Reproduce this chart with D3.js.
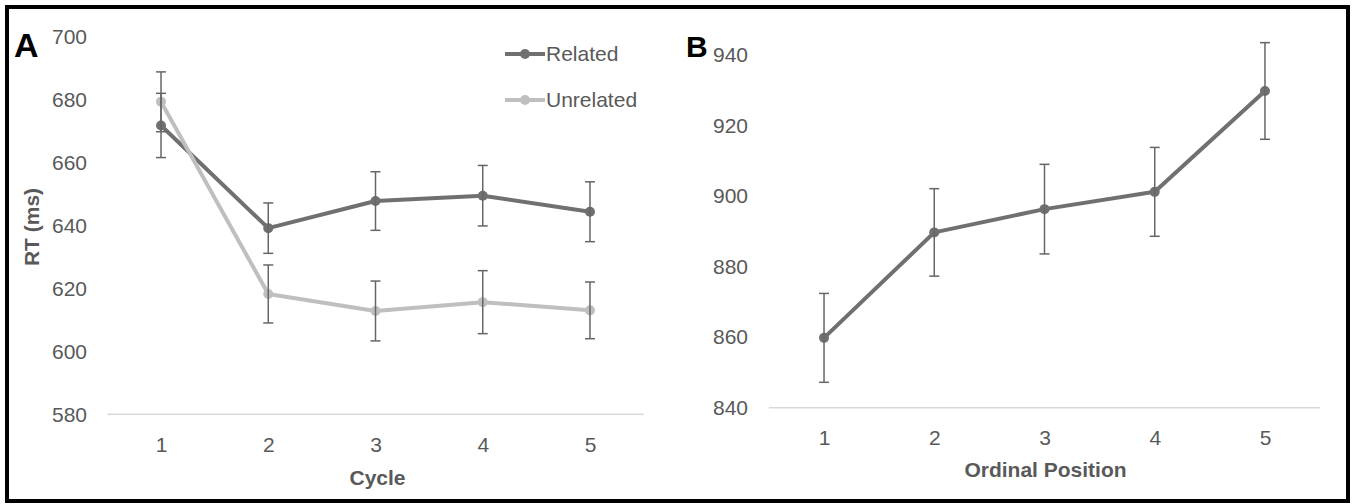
<!DOCTYPE html>
<html>
<head>
<meta charset="utf-8">
<script src="https://cdn.jsdelivr.net/npm/d3@7"></script>
<style>
  body { margin: 0; background: #fff; }
  svg { display: block; font-family: "Liberation Sans", Arial, sans-serif; }
</style>
</head>
<body>
<div id="chart"></div>
<script>
// Panel A: RT by cycle
const cycles = [1, 2, 3, 4, 5];
const relatedRT = [671.7, 639.1, 647.7, 649.4, 644.3];
const relatedErr = [10.2, 8.0, 9.3, 9.6, 9.5];
const unrelatedRT = [679.2, 618.2, 612.8, 615.6, 613.0];
const unrelatedErr = [9.5, 9.2, 9.5, 10.0, 9.0];
const ticksA = [580, 600, 620, 640, 660, 680, 700];

// Panel B: RT by ordinal position
const positions = [1, 2, 3, 4, 5];
const positionRT = [859.8, 889.7, 896.3, 901.2, 929.8];
const positionErr = [12.6, 12.4, 12.7, 12.6, 13.7];
const ticksB = [840, 860, 880, 900, 920, 940];

const W = 1353, H = 504;
const textColor = "#595959";
const errColor = "#666";

const svg = d3.select("#chart").append("svg")
    .attr("width", W)
    .attr("height", H);

// outer frame
svg.append("rect")
    .attr("x", 7).attr("y", 7)
    .attr("width", 1341).attr("height", 494)
    .attr("fill", "none")
    .attr("stroke", "#000")
    .attr("stroke-width", 4);

function drawPanel(cfg) {
    const x = d3.scalePoint()
        .domain(cfg.cats)
        .range(cfg.xRange)
        .padding(0.5);
    const y = d3.scaleLinear()
        .domain(cfg.yDomain)
        .range(cfg.yRange);

    const g = svg.append("g");

    // baseline gridline
    g.append("line")
        .attr("x1", x.range()[0]).attr("x2", x.range()[1])
        .attr("y1", y(cfg.yDomain[0])).attr("y2", y(cfg.yDomain[0]))
        .attr("stroke", "#d9d9d9")
        .attr("stroke-width", 1.5);

    // y tick labels
    const yAxis = d3.axisLeft(y).tickValues(cfg.ticks).tickSize(0).tickPadding(0);
    const ya = g.append("g")
        .attr("transform", "translate(" + cfg.yLabelX + ",0)")
        .call(yAxis);
    ya.select(".domain").remove();
    ya.selectAll("text")
        .attr("fill", textColor)
        .style("font-size", "21px")
        .style("font-family", '"Liberation Sans", Arial, sans-serif');

    // x tick labels
    const xAxis = d3.axisBottom(x).tickSize(0).tickPadding(0);
    const xa = g.append("g")
        .attr("transform", "translate(0," + cfg.xLabelY + ")")
        .call(xAxis);
    xa.select(".domain").remove();
    xa.selectAll("text")
        .attr("fill", textColor)
        .attr("dy", "0.35em")
        .attr("y", 0)
        .style("font-size", "21px")
        .style("font-family", '"Liberation Sans", Arial, sans-serif');

    // axis title
    g.append("text")
        .attr("x", d3.mean(x.range()) + cfg.titleDx)
        .attr("y", cfg.titleY)
        .attr("text-anchor", "middle")
        .attr("fill", textColor)
        .style("font-size", "21px")
        .style("font-weight", "bold")
        .text(cfg.title);

    // series
    const line = d3.line()
        .x((d, i) => x(cfg.cats[i]))
        .y(d => y(d));

    cfg.series.forEach(s => {
        g.append("path")
            .datum(s.values)
            .attr("fill", "none")
            .attr("stroke", s.color)
            .attr("stroke-width", 4)
            .attr("stroke-linejoin", "round")
            .attr("d", line);

        g.selectAll(null)
            .data(s.values)
            .enter().append("circle")
            .attr("cx", (d, i) => x(cfg.cats[i]))
            .attr("cy", d => y(d))
            .attr("r", 5)
            .attr("fill", s.color);
    });

    // error bars on top
    cfg.series.forEach(s => {
        const eb = g.selectAll(null)
            .data(s.values.map((v, i) => ({ c: cfg.cats[i], v: v, e: s.err[i] })))
            .enter().append("g")
            .attr("stroke", errColor)
            .attr("stroke-width", 1.5);
        eb.append("line")
            .attr("x1", d => x(d.c)).attr("x2", d => x(d.c))
            .attr("y1", d => y(d.v + d.e)).attr("y2", d => y(d.v - d.e));
        [1, -1].forEach(sign => {
            eb.append("line")
                .attr("x1", d => x(d.c) - 5).attr("x2", d => x(d.c) + 5)
                .attr("y1", d => y(d.v + sign * d.e)).attr("y2", d => y(d.v + sign * d.e));
        });
    });

    return { x, y };
}

drawPanel({
    cats: cycles,
    xRange: [107.4, 643.6],
    yDomain: [580, 700],
    yRange: [414.3, 36.3],
    ticks: ticksA,
    yLabelX: 87,
    xLabelY: 445,
    title: "Cycle",
    titleDx: 2,
    titleY: 485,
    series: [
        { values: relatedRT, err: relatedErr, color: "#707070" },
        { values: unrelatedRT, err: unrelatedErr, color: "#bfbfbf" }
    ]
});

drawPanel({
    cats: positions,
    xRange: [768.9, 1320.1],
    yDomain: [840, 940],
    yRange: [407.7, 55],
    ticks: ticksB,
    yLabelX: 748,
    xLabelY: 438,
    title: "Ordinal Position",
    titleDx: 1,
    titleY: 477,
    series: [
        { values: positionRT, err: positionErr, color: "#707070" }
    ]
});

// y axis title panel A
svg.append("text")
    .attr("transform", "translate(39,227) rotate(-90)")
    .attr("text-anchor", "middle")
    .attr("fill", textColor)
    .style("font-size", "21px")
    .style("font-weight", "bold")
    .text("RT (ms)");

// panel letters
svg.append("text")
    .attr("x", 14).attr("y", 57)
    .style("font-size", "34px")
    .style("font-weight", "bold")
    .attr("fill", "#000")
    .text("A");
svg.append("text")
    .attr("x", 686).attr("y", 57)
    .style("font-size", "30px")
    .style("font-weight", "bold")
    .attr("fill", "#000")
    .text("B");

// legend
const legendItems = [
    { label: "Related", color: "#707070" },
    { label: "Unrelated", color: "#bfbfbf" }
];
const lg = svg.append("g").attr("transform", "translate(505,54)");
const li = lg.selectAll("g")
    .data(legendItems)
    .enter().append("g")
    .attr("transform", (d, i) => "translate(0," + i * 46 + ")");
li.append("line")
    .attr("x1", 0).attr("x2", 40)
    .attr("stroke", d => d.color)
    .attr("stroke-width", 4);
li.append("circle")
    .attr("cx", 20).attr("r", 5)
    .attr("fill", d => d.color);
li.append("text")
    .attr("x", 41)
    .attr("dy", "0.35em")
    .attr("fill", textColor)
    .style("font-size", "21px")
    .text(d => d.label);
</script>
</body>
</html>
